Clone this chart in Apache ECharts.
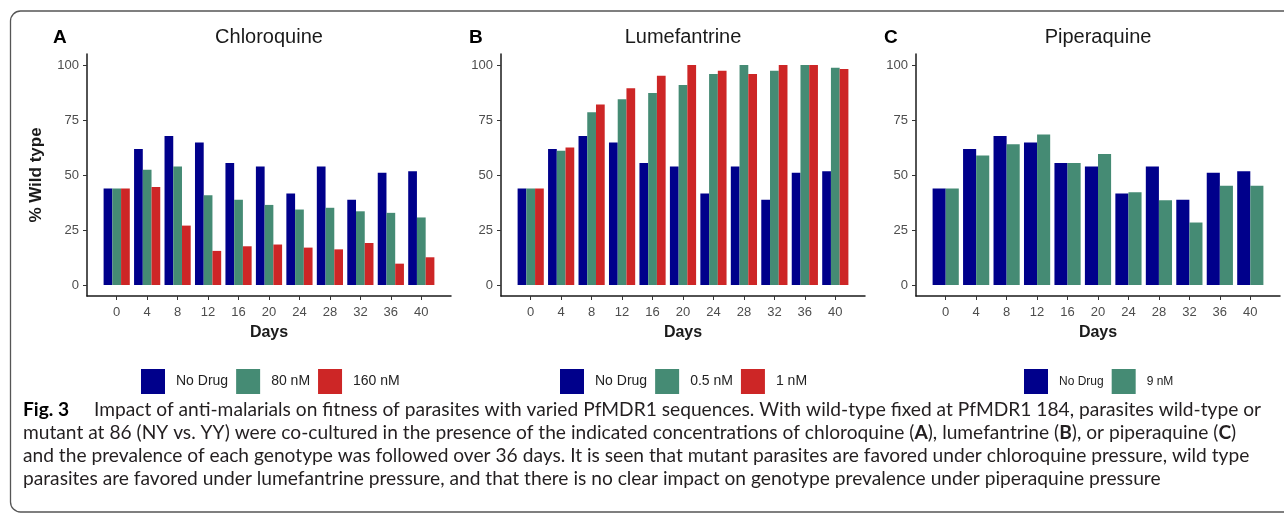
<!DOCTYPE html>
<html><head><meta charset="utf-8">
<script src="https://cdn.jsdelivr.net/npm/echarts@6/dist/echarts.min.js"></script>
<style>html,body{margin:0;padding:0;background:#fff;} #c{width:1284px;height:515px;}</style>
</head><body><div id="c"></div>
<script>
// ---- data ----
const days = [0, 4, 8, 12, 16, 20, 24, 28, 32, 36, 40];
const noDrug = [43.9, 61.8, 67.7, 64.8, 55.4, 53.9, 41.6, 53.9, 38.7, 51.0, 51.7];
const cq80 = [43.9, 52.4, 53.9, 40.8, 38.7, 36.4, 34.3, 35.1, 33.5, 32.8, 30.7];
const cq160 = [43.9, 44.5, 27.0, 15.5, 17.6, 18.4, 17.0, 16.2, 19.1, 9.7, 12.6];
const lf05 = [43.9, 61.0, 78.5, 84.4, 87.3, 90.9, 95.9, 100, 97.4, 100, 98.8];
const lf1 = [43.9, 62.5, 82.1, 89.4, 95.1, 100, 97.4, 95.9, 100, 100, 98.2];
const pq9 = [43.9, 58.9, 64.0, 68.4, 55.4, 59.6, 42.2, 38.5, 28.4, 45.1, 45.1];
const yTicks = [0, 25, 50, 75, 100];
const panelTitles = ['Chloroquine', 'Lumefantrine', 'Piperaquine'];
const panelLetters = ['A', 'B', 'C'];
const legendA = ['No Drug', '80 nM', '160 nM'];
const legendB = ['No Drug', '0.5 nM', '1 nM'];
const legendC = ['No Drug', '9 nM'];
const yName = '% Wild type';
const xName = 'Days';
const capFig = 'Fig. 3';
const capLine1 = 'Impact of anti-malarials on fitness of parasites with varied PfMDR1 sequences. With wild-type fixed at PfMDR1 184, parasites wild-type or';
const capLine2 = 'mutant at 86 (NY vs. YY) were co-cultured in the presence of the indicated concentrations of chloroquine ({b|A}), lumefantrine ({b|B}), or piperaquine ({b|C})';
const capLine3 = 'and the prevalence of each genotype was followed over 36 days. It is seen that mutant parasites are favored under chloroquine pressure, wild type';
const capLine4 = 'parasites are favored under lumefantrine pressure, and that there is no clear impact on genotype prevalence under piperaquine pressure';

// ---- style ----
const BLUE = '#00008B', GREEN = '#458B74', RED = '#CD2626';
const FONT = 'Liberation Sans, Arial, sans-serif';
const gridLefts = [87, 501, 916];
const gridW = 364, gridTop = 54, gridH = 242;

const panels = [
  { series: [['No Drug', noDrug, BLUE], ['80 nM', cq80, GREEN], ['160 nM', cq160, RED]] },
  { series: [['No Drug', noDrug, BLUE], ['0.5 nM', lf05, GREEN], ['1 nM', lf1, RED]] },
  { series: [['No Drug', noDrug, BLUE], ['9 nM', pq9, GREEN]] }
];

const grid = [], xAxis = [], yAxis = [], series = [], title = [];
panels.forEach((p, i) => {
  grid.push({ left: gridLefts[i], top: gridTop, width: gridW, height: gridH });
  xAxis.push({
    type: 'value', gridIndex: i, min: -3.9, max: 43.9,
    axisLine: { show: true, onZero: false, lineStyle: { color: '#1a1a1a', width: 1.5 } },
    axisTick: { show: true, customValues: days, length: 4, lineStyle: { color: '#333', width: 1 } },
    axisLabel: { customValues: days, color: '#4d4d4d', fontSize: 13, fontFamily: FONT, margin: 10 },
    splitLine: { show: false },
    name: xName, nameLocation: 'middle', nameGap: 29,
    nameTextStyle: { fontSize: 16, fontWeight: 'bold', color: '#1a1a1a', fontFamily: FONT }
  });
  yAxis.push({
    type: 'value', gridIndex: i, min: -5, max: 105,
    axisLine: { show: true, onZero: false, lineStyle: { color: '#1a1a1a', width: 1.5 } },
    axisTick: { show: true, customValues: yTicks, length: 4, lineStyle: { color: '#333', width: 1 } },
    axisLabel: { customValues: yTicks, color: '#4d4d4d', fontSize: 13, fontFamily: FONT, margin: 8 },
    splitLine: { show: false },
    name: i === 0 ? yName : '', nameLocation: 'middle', nameGap: 42, nameRotate: 90,
    nameTextStyle: { fontSize: 17, fontWeight: 'bold', color: '#1a1a1a', fontFamily: FONT }
  });
  p.series.forEach(s => {
    series.push({
      type: 'bar', name: s[0], xAxisIndex: i, yAxisIndex: i,
      data: days.map((d, k) => [d, s[1][k]]),
      itemStyle: { color: s[2] },
      barGap: '0%', barCategoryGap: '14%',
      emphasis: { disabled: true }, animation: false
    });
  });
  const cx = gridLefts[i] + gridW / 2;
  title.push({ text: panelTitles[i], left: cx, top: 27, textAlign: 'center', padding: 0,
    textStyle: { fontSize: 20, fontWeight: 'normal', color: '#1a1a1a', fontFamily: FONT } });
});
const letterLefts = [53, 469, 884];
letterLefts.forEach((l, i) => title.push({ text: panelLetters[i], left: l, top: 28, padding: 0,
  textStyle: { fontSize: 19, fontWeight: 'bold', color: '#000', fontFamily: FONT } }));

function mkLegend(data, left, fs) {
  return { data: data, left: left, top: 369, padding: 0, itemWidth: 24, itemHeight: 25, itemGap: 8, icon: 'rect',
    selectedMode: false,
    textStyle: { fontSize: fs, color: '#222', fontFamily: FONT, padding: [0, 0, 0, 6] } };
}
const legend = [mkLegend(legendA, 141, 14), mkLegend(legendB, 560, 14), mkLegend(legendC, 1024, 12)];

// caption font sizing from measured text width
const CAPFONT = 'Lato';
const ctx = document.createElement('canvas').getContext('2d');
function mw(t, size, bold) { ctx.font = (bold ? 'bold ' : '') + size + 'px ' + CAPFONT; return ctx.measureText(t).width; }
const capLeft = 23, capRight = 1262, gapEm = 1.3;
const s100 = mw(capFig, 100, true) + gapEm * 100 + mw(capLine1, 100, false);
const capSize = 100 * (capRight - capLeft) / s100;
const figW = mw(capFig, capSize, true);
const capStyle = { fontSize: capSize, fontFamily: CAPFONT, fill: '#231f20', verticalAlign: 'middle' };
const richB = { b: { fontWeight: 'bold', fontSize: capSize, fontFamily: CAPFONT } };
const lineY = [410, 433, 456, 479];

const graphic = [
  { type: 'rect', shape: { x: 10.5, y: 11, width: 1300, height: 501, r: 10 }, style: { fill: 'none', stroke: '#555', lineWidth: 1.3 }, z: 0 },
  { type: 'text', x: capLeft, y: lineY[0], style: Object.assign({}, capStyle, { text: capFig, fontWeight: 'bold', fill: '#000' }) },
  { type: 'text', x: capLeft + figW + gapEm * capSize, y: lineY[0], style: Object.assign({}, capStyle, { text: capLine1 }) },
  { type: 'text', x: capLeft, y: lineY[1], style: Object.assign({}, capStyle, { text: capLine2, rich: richB }) },
  { type: 'text', x: capLeft, y: lineY[2], style: Object.assign({}, capStyle, { text: capLine3 }) },
  { type: 'text', x: capLeft, y: lineY[3], style: Object.assign({}, capStyle, { text: capLine4 }) }
];

const chart = echarts.init(document.getElementById('c'), null, { renderer: 'canvas' });
chart.setOption({ animation: false, backgroundColor: '#fff', title, grid, xAxis, yAxis, series, legend, graphic });
</script></body></html>
